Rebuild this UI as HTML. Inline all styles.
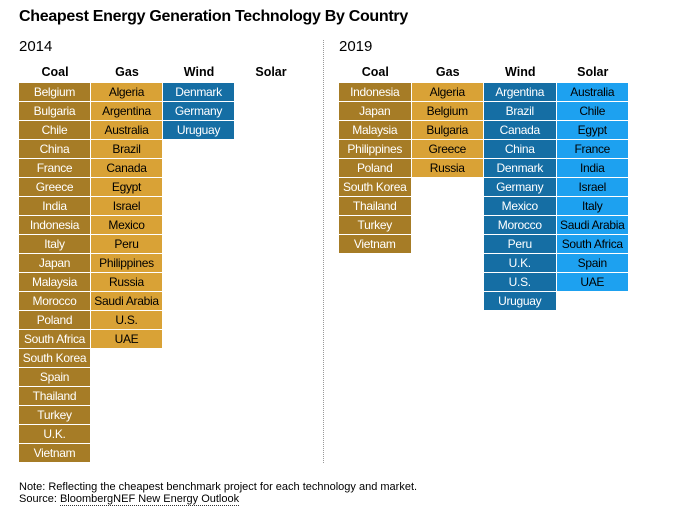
<!DOCTYPE html>
<html><head><meta charset="utf-8">
<style>
body{margin:0;width:680px;height:519px;background:#fff;font-family:"Liberation Sans",Arial,sans-serif;position:relative;overflow:hidden;color:#000}
.abs{position:absolute}
.cell{position:absolute;box-sizing:border-box;border-right:1px solid #fff;border-bottom:1px solid #fff;font-size:12px;text-align:center;line-height:18px;white-space:nowrap;overflow:hidden;letter-spacing:-0.3px}
.hdr{position:absolute;font-size:12.5px;font-weight:bold;text-align:center;width:72px}
</style></head><body>
<div class="abs" style="left:19px;top:8px;font-size:16px;font-weight:bold;letter-spacing:-0.3px">Cheapest Energy Generation Technology By Country</div>
<div class="abs" style="left:19px;top:38px;font-size:15px">2014</div>
<div class="abs" style="left:339px;top:38px;font-size:15px">2019</div>
<div class="abs" style="left:323px;top:40px;height:423px;border-left:1px dotted #999"></div>
<div class="abs" style="left:19px;top:481px;font-size:11px;line-height:12px">Note: Reflecting the cheapest benchmark project for each technology and market.<br>Source: <span style="border-bottom:1px dotted #333">BloombergNEF New Energy Outlook</span></div>
<div id="root"></div>
<script>
const techs=["Coal","Gas","Wind","Solar"];
const colors=["#a67c26","#d9a236","#156ea4","#1da1f0"];
const textColors=["#fff","#000","#fff","#000"];
const coal2014=["Belgium","Bulgaria","Chile","China","France","Greece","India","Indonesia","Italy","Japan","Malaysia","Morocco","Poland","South Africa","South Korea","Spain","Thailand","Turkey","U.K.","Vietnam"];
const gas2014=["Algeria","Argentina","Australia","Brazil","Canada","Egypt","Israel","Mexico","Peru","Philippines","Russia","Saudi Arabia","U.S.","UAE"];
const wind2014=["Denmark","Germany","Uruguay"];
const solar2014=[];
const coal2019=["Indonesia","Japan","Malaysia","Philippines","Poland","South Korea","Thailand","Turkey","Vietnam"];
const gas2019=["Algeria","Belgium","Bulgaria","Greece","Russia"];
const wind2019=["Argentina","Brazil","Canada","China","Denmark","Germany","Mexico","Morocco","Peru","U.K.","U.S.","Uruguay"];
const solar2019=["Australia","Chile","Egypt","France","India","Israel","Italy","Saudi Arabia","South Africa","Spain","UAE"];
const panels=[{year:"2014",x0:19,cw:72,cols:[coal2014,gas2014,wind2014,solar2014]},{year:"2019",x0:339,cw:72.5,cols:[coal2019,gas2019,wind2019,solar2019]}];
const root=document.getElementById('root');
const y0=83,rh=19;
panels.forEach(p=>{
  techs.forEach((t,i)=>{
    const h=document.createElement('div');
    h.className='hdr';
    
    
    h.style.left=(p.x0+i*p.cw)+'px';h.style.top='65px';h.style.width=p.cw+'px';
    h.textContent=t;root.appendChild(h);
    p.cols[i].forEach((c,j)=>{
      const d=document.createElement('div');
      d.className='cell';
      
      
      d.style.left=(p.x0+i*p.cw)+'px';d.style.top=(y0+j*rh)+'px';
      d.style.width=p.cw+'px';d.style.height=rh+'px';
      d.style.background=colors[i];d.style.color=textColors[i];
      d.textContent=c;root.appendChild(d);
    });
  });
});
</script>
</body></html>
